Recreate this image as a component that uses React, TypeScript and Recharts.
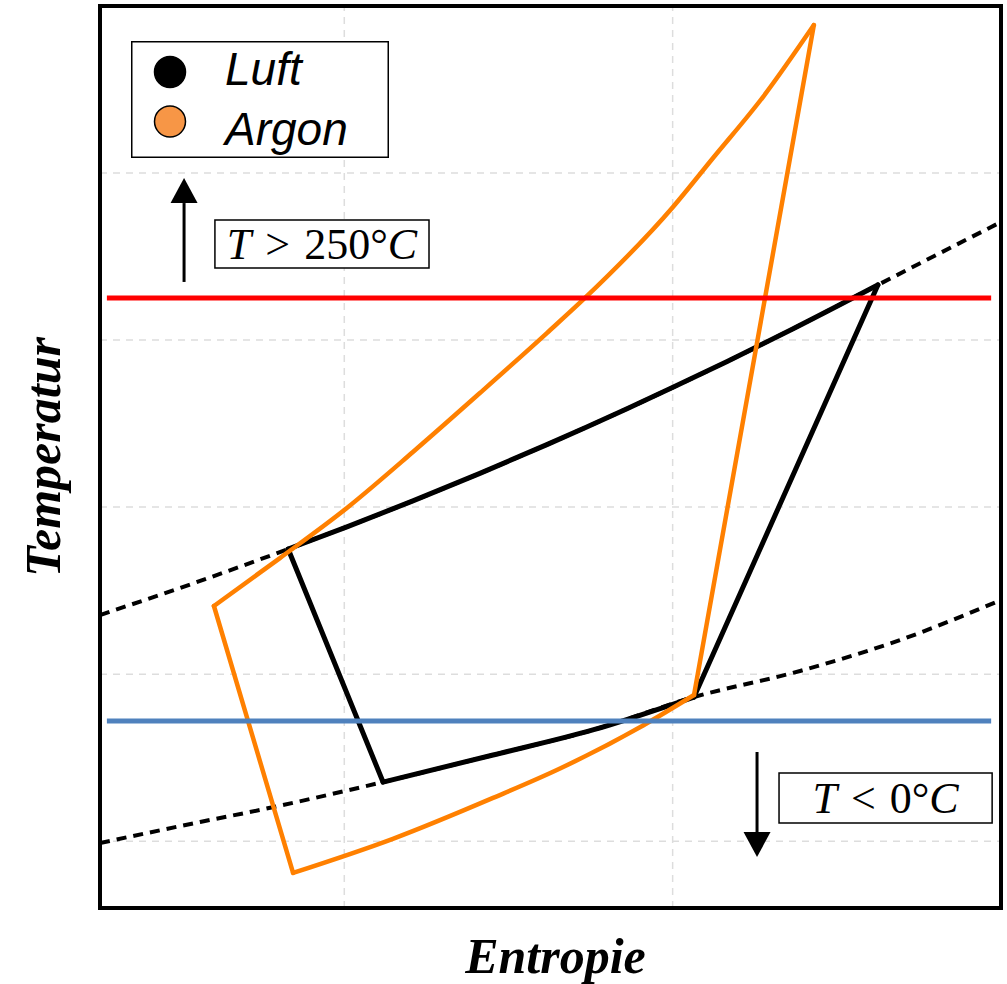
import React from 'react';
import {
  ComposedChart,
  Line,
  XAxis,
  YAxis,
  ReferenceArea,
  ReferenceLine,
  Legend,
} from 'recharts';

// ---- axes ----
const xTicks = [0, 1, 2];
const yTicks = [0, 1, 2, 3, 4, 5];
const xDomain: [number, number] = [-0.744, 2];
const yDomain: [number, number] = [-0.4, 5];

// ---- isobars (dotted) ----
const isoHighS = [-0.744, -0.439, -0.171, 0.008, 0.209, 0.413, 0.617, 0.861, 1.001, 1.166, 1.367, 1.625, 2.0];
const isoHighT = [1.354, 1.558, 1.749, 1.882, 2.037, 2.202, 2.374, 2.589, 2.717, 2.872, 3.068, 3.33, 3.707];
const isoLowS = [-0.744, -0.439, -0.257, 0.118, 0.453, 0.757, 1.065, 1.388, 1.692, 2.0];
const isoLowT = [-0.011, 0.115, 0.187, 0.354, 0.516, 0.666, 0.863, 1.019, 1.204, 1.444];

// ---- Luft cycle ----
const luftHeatS = [-0.171, 0.008, 0.209, 0.413, 0.617, 0.861, 1.001, 1.166, 1.367, 1.625];
const luftHeatT = [1.749, 1.882, 2.037, 2.202, 2.374, 2.589, 2.717, 2.872, 3.068, 3.33];
const luftExpandS = [1.625, 1.065];
const luftExpandT = [3.33, 0.863];
const luftCoolS = [0.118, 0.453, 0.757, 1.065];
const luftCoolT = [0.354, 0.516, 0.666, 0.863];
const luftCompressS = [0.118, -0.171];
const luftCompressT = [0.354, 1.749];

// ---- Argon cycle ----
const argonHeatS = [-0.397, -0.196, 0.008, 0.209, 0.413, 0.617, 0.733, 1.001, 1.123, 1.275, 1.43];
const argonHeatT = [1.408, 1.695, 1.995, 2.33, 2.683, 3.042, 3.252, 3.797, 4.09, 4.455, 4.886];
const argonExpandS = [1.43, 1.065];
const argonExpandT = [4.886, 0.875];
const argonCoolS = [-0.156, 0.148, 0.453, 0.657, 0.91, 1.065];
const argonCoolT = [-0.19, 0.014, 0.259, 0.435, 0.693, 0.875];
const argonCompressS = [-0.156, -0.397];
const argonCompressT = [-0.19, 1.408];

// ---- limits ----
const limitS = [-0.723, 1.97];
const hotLimitT = 3.252;
const coldLimitT = 0.72;

// ---- annotations ----
const upArrowS = -0.488;
const upArrowT = [3.348, 3.97];
const downArrowS = 1.257;
const downArrowT = [0.534, -0.095];
const hotBoxS = [-0.394, 0.258];
const hotBoxT = [3.431, 3.719];
const coldBoxS = [1.324, 1.973];
const coldBoxT = [0.109, 0.408];
const hotLabel = ['T', '>', '250°', 'C'];
const coldLabel = ['T', '<', '0°', 'C'];

const legendNames = ['Luft', 'Argon'];
const legendColors = ['#000000', '#F79646'];

const zip = (s: number[], t: number[]) => s.map((v, i) => ({ s: v, t: t[i] }));

const isoHigh = zip(isoHighS, isoHighT);
const isoLow = zip(isoLowS, isoLowT);
const luftSegments = [
  { data: zip(luftHeatS, luftHeatT), curved: true },
  { data: zip(luftExpandS, luftExpandT), curved: false },
  { data: zip(luftCoolS, luftCoolT), curved: true },
  { data: zip(luftCompressS, luftCompressT), curved: false },
];
const argonSegments = [
  { data: zip(argonHeatS, argonHeatT), curved: true },
  { data: zip(argonExpandS, argonExpandT), curved: false },
  { data: zip(argonCoolS, argonCoolT), curved: true },
  { data: zip(argonCompressS, argonCompressT), curved: false },
];
const hotLine = limitS.map((s) => ({ s, t: hotLimitT }));
const coldLine = limitS.map((s) => ({ s, t: coldLimitT }));

const Arrow = (props: any) => {
  const { x1, y1, x2, y2 } = props;
  const dir = Math.sign(y2 - y1);
  const headLen = 25;
  const halfW = 13.5;
  const by = y2 - dir * headLen;
  return (
    <g>
      <line x1={x1} y1={y1} x2={x2} y2={by} stroke="#000" strokeWidth={3} />
      <path d={`M${x2},${y2} L${x2 - halfW},${by} L${x2 + halfW},${by} Z`} fill="#000" />
    </g>
  );
};

const mathFont = "'Liberation Serif', 'Times New Roman', serif";

const boxLabel = (parts: string[]) => (props: any) => {
  const vb = props.viewBox || {};
  const cx = vb.x + vb.width / 2;
  const by = vb.y + vb.height / 2 + 15;
  return (
    <text x={cx} y={by} textAnchor="middle" fontFamily={mathFont} fontSize={44} fill="#000">
      <tspan fontStyle="italic">{parts[0]}</tspan>
      <tspan dx={14}>{parts[1]}</tspan>
      <tspan dx={14}>{parts[2]}</tspan>
      <tspan fontStyle="italic">{parts[3]}</tspan>
    </text>
  );
};

const LegendBox = () => (
  <svg width={258} height={117} style={{ display: 'block' }}>
    <rect x={0.75} y={0.75} width={256.5} height={115.5} fill="#fff" stroke="#000" strokeWidth={1.5} />
    {legendNames.map((n, i) => (
      <g key={n}>
        <circle cx={39} cy={31 + i * 49.5} r={15.5} fill={legendColors[i]} stroke="#000" strokeWidth={1.5} />
        <text
          x={94}
          y={44 + i * 60}
          fontFamily="'Liberation Sans', Arial, sans-serif"
          fontStyle="italic"
          fontSize={46}
          fill="#000"
        >
          {n}
        </text>
      </g>
    ))}
  </svg>
);

const xLabel = (props: any) => {
  const vb = props.viewBox || { x: 100, y: 908, width: 901, height: 76 };
  return (
    <text
      x={vb.x + vb.width / 2 + 5}
      y={vb.y + 65}
      textAnchor="middle"
      fontFamily="'Liberation Serif', 'Times New Roman', serif"
      fontWeight="bold"
      fontStyle="italic"
      fontSize={50}
      fill="#000"
    >
      Entropie
    </text>
  );
};

const yLabel = (props: any) => {
  const vb = props.viewBox || { x: 0, y: 6, width: 100, height: 902 };
  const cx = vb.x + 43;
  const cy = vb.y + vb.height / 2;
  return (
    <text
      x={cx}
      y={cy}
      transform={`rotate(-90, ${cx}, ${cy})`}
      textAnchor="middle"
      dominantBaseline="central"
      fontFamily="'Liberation Serif', 'Times New Roman', serif"
      fontWeight="bold"
      fontStyle="italic"
      fontSize={50}
      fill="#000"
    >
      Temperatur
    </text>
  );
};

const gridProps = { stroke: '#dddddd', strokeDasharray: '7 6', strokeWidth: 1.5, ifOverflow: 'visible' as const, zIndex: -100 };

export default function App() {
  return (
    <div style={{ position: 'absolute', left: 0, top: 0, background: '#fff' }}>
      <ComposedChart width={1007} height={984} margin={{ top: 6, right: 6, left: 0, bottom: 0 }}>
        <XAxis
          type="number"
          dataKey="s"
          domain={xDomain}
          ticks={xTicks}
          allowDataOverflow
          tick={false}
          tickLine={false}
          axisLine={false}
          height={76}
          label={{ content: xLabel }}
        />
        <YAxis
          type="number"
          dataKey="t"
          domain={yDomain}
          ticks={yTicks}
          allowDataOverflow
          tick={false}
          tickLine={false}
          axisLine={false}
          width={100}
          label={{ content: yLabel }}
        />
        {xTicks.map((v) => (
          <ReferenceLine key={`gx${v}`} x={v} {...gridProps} />
        ))}
        {yTicks.map((v) => (
          <ReferenceLine key={`gy${v}`} y={v} {...gridProps} />
        ))}
        <Line data={isoHigh} dataKey="t" type="monotone" stroke="#000" strokeWidth={4} strokeDasharray="10 7" dot={false} isAnimationActive={false} legendType="none" />
        <Line data={isoLow} dataKey="t" type="monotone" stroke="#000" strokeWidth={4} strokeDasharray="10 7" dot={false} isAnimationActive={false} legendType="none" />
        {luftSegments.map((seg, i) => (
          <Line
            key={`l${i}`}
            data={seg.data}
            dataKey="t"
            name="Luft"
            type={seg.curved ? 'monotone' : 'linear'}
            stroke="#000"
            strokeWidth={5}
            strokeLinecap="round"
            dot={false}
            isAnimationActive={false}
            legendType="none"
          />
        ))}
        {argonSegments.map((seg, i) => (
          <Line
            key={`a${i}`}
            data={seg.data}
            dataKey="t"
            name="Argon"
            type={seg.curved ? 'monotone' : 'linear'}
            stroke="#FF8000"
            strokeWidth={4.5}
            strokeLinecap="round"
            dot={false}
            isAnimationActive={false}
            legendType="none"
          />
        ))}
        <Line data={hotLine} dataKey="t" type="linear" stroke="#FF0000" strokeWidth={5} dot={false} isAnimationActive={false} legendType="none" />
        <Line data={coldLine} dataKey="t" type="linear" stroke="#4F81BD" strokeWidth={5} dot={false} isAnimationActive={false} legendType="none" />
        <ReferenceArea x1={xDomain[0]} x2={xDomain[1]} y1={yDomain[0]} y2={yDomain[1]} fill="none" stroke="#000" strokeWidth={4} ifOverflow="visible" />
        <ReferenceLine
          segment={[{ x: upArrowS, y: upArrowT[0] }, { x: upArrowS, y: upArrowT[1] }]}
          shape={Arrow}
          ifOverflow="visible"
        />
        <ReferenceLine
          segment={[{ x: downArrowS, y: downArrowT[0] }, { x: downArrowS, y: downArrowT[1] }]}
          shape={Arrow}
          ifOverflow="visible"
        />
        <ReferenceArea
          x1={hotBoxS[0]}
          x2={hotBoxS[1]}
          y1={hotBoxT[0]}
          y2={hotBoxT[1]}
          fill="#fff"
          fillOpacity={1}
          stroke="#000"
          strokeWidth={1.5}
          ifOverflow="visible"
          label={{ content: boxLabel(hotLabel) }}
        />
        <ReferenceArea
          x1={coldBoxS[0]}
          x2={coldBoxS[1]}
          y1={coldBoxT[0]}
          y2={coldBoxT[1]}
          fill="#fff"
          fillOpacity={1}
          stroke="#000"
          strokeWidth={1.5}
          ifOverflow="visible"
          label={{ content: boxLabel(coldLabel) }}
        />
        <Legend
          layout="vertical"
          align="center"
          verticalAlign="middle"
          content={() => <LegendBox />}
          wrapperStyle={{ position: 'absolute', left: 131, top: 41, width: 258, height: 117, margin: 0 }}
        />
      </ComposedChart>
    </div>
  );
}
